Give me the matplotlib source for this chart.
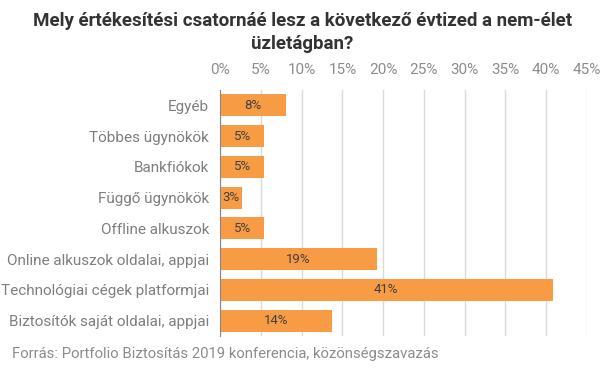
import matplotlib
matplotlib.use("Agg")
import matplotlib.pyplot as plt

# Data (share of votes, %)
categories = ["Egyéb", "Többes ügynökök", "Bankfiókok", "Függő ügynökök",
              "Offline alkuszok", "Online alkuszok oldalai, appjai",
              "Technológiai cégek platformjai", "Biztosítók saját oldalai, appjai"]
values = [8.1, 5.4, 5.4, 2.7, 5.4, 19.2, 40.8, 13.7]
value_labels = ["8%", "5%", "5%", "3%", "5%", "19%", "41%", "14%"]
ticks = list(range(0, 50, 5))

plt.rcParams['font.family'] = ['Roboto', 'DejaVu Sans']

fig = plt.figure(figsize=(6.05, 3.78), dpi=100)
ax = fig.add_axes([0.364, 0.111, 0.606, 0.651])

y = list(range(len(categories)))
bars = ax.barh(y, values, height=0.72, color="#F79B45", zorder=3)
for b, lab in zip(bars, value_labels):
    ax.text(b.get_width() / 2, b.get_y() + b.get_height() / 2, lab,
            ha="center", va="center", fontsize=9.5, color="#404040", zorder=4)

ax.set_ylim(len(categories) - 0.5, -0.5)
ax.set_xlim(0, 45)
ax.set_yticks(y)
ax.set_yticklabels(categories, fontsize=11, color="#7f7f7f")
ax.set_xticks(ticks)
ax.set_xticklabels([f"{t}%" for t in ticks], fontsize=11, color="#8c8c8c")
ax.xaxis.tick_top()
ax.tick_params(axis="both", length=0)
ax.tick_params(axis="x", pad=9)
ax.tick_params(axis="y", pad=8)
ax.grid(axis="x", color="#d9d9d9", linewidth=1, zorder=0)
for s in ["top", "right", "bottom"]:
    ax.spines[s].set_visible(False)
ax.spines["left"].set_color("#868686")
ax.spines["left"].set_zorder(5)

fig.text(0.5, 0.968, "Mely értékesítési csatornáé lesz a következő évtized a nem-élet\nüzletágban?",
         ha="center", va="top", fontsize=13.5, fontweight="bold", color="#333333",
         linespacing=1.35)
fig.text(0.02, 0.063, "Forrás: Portfolio Biztosítás 2019 konferencia, közönségszavazás",
         ha="left", va="center", fontsize=10.7, color="#8c8c8c")

fig.savefig("out.png", dpi=100)
